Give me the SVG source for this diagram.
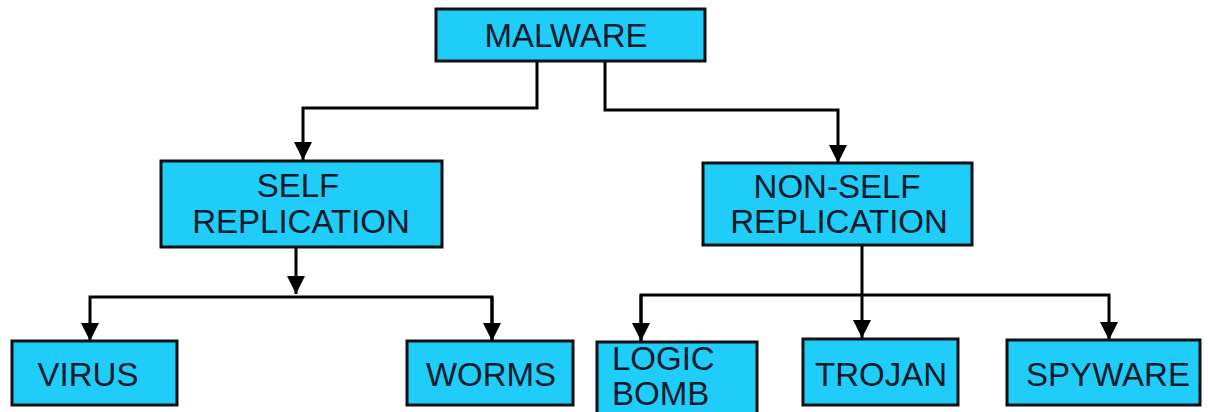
<svg xmlns="http://www.w3.org/2000/svg" width="1208" height="412" viewBox="0 0 1208 412">
<style>
.box{fill:#20CCF8;stroke:#111;stroke-width:3}
.t{font-family:"Liberation Sans",Arial,sans-serif;font-size:33px;fill:#0a1a2a;text-anchor:middle}
.c{fill:none;stroke:#000;stroke-width:3}
</style>
<defs>
<marker id="ah" markerUnits="userSpaceOnUse" markerWidth="18" markerHeight="18" viewBox="0 0 18 18" refX="9" refY="18" orient="0">
<path d="M0,0 L18,0 L9,18 Z" fill="#000"/>
</marker>
</defs>
<rect width="1208" height="412" fill="#fff"/>
<g id="connectors">
<path class="c" d="M537,61 V108 H303 V160" marker-end="url(#ah)"/>
<path class="c" d="M605,61 V110 H838 V163" marker-end="url(#ah)"/>
<path class="c" d="M296,247 V294" marker-end="url(#ah)"/>
<path class="c" d="M492,341 V297 H90 V341" marker-end="url(#ah)"/>
<path class="c" d="M492,297 V341" marker-end="url(#ah)"/>
<path class="c" d="M862,245 V338" marker-end="url(#ah)"/>
<path class="c" d="M641,341 V295 H1109 V340" marker-end="url(#ah)"/>
<path class="c" d="M641,295 V341" marker-end="url(#ah)"/>
</g>
<g id="malware"><rect class="box" x="436" y="9" width="269" height="52"/><text class="t" x="566" y="47">MALWARE</text></g>
<g id="self"><rect class="box" x="161" y="161" width="281" height="86"/><text class="t" x="298" y="197">SELF</text><text class="t" x="301" y="233">REPLICATION</text></g>
<g id="nonself"><rect class="box" x="703" y="163" width="269" height="82"/><text class="t" x="837" y="198">NON-SELF</text><text class="t" x="839" y="233">REPLICATION</text></g>
<g id="virus"><rect class="box" x="12" y="341" width="165" height="64"/><text class="t" x="88" y="386">VIRUS</text></g>
<g id="worms"><rect class="box" x="407" y="341" width="166" height="64"/><text class="t" x="491" y="386">WORMS</text></g>
<g id="logicbomb"><rect class="box" x="597" y="342" width="160" height="72"/><text class="t" x="612" y="370" style="text-anchor:start">LOGIC</text><text class="t" x="612" y="405" style="text-anchor:start">BOMB</text></g>
<g id="trojan"><rect class="box" x="803" y="339" width="155" height="66"/><text class="t" x="881" y="386">TROJAN</text></g>
<g id="spyware"><rect class="box" x="1007" y="340" width="193" height="65"/><text class="t" x="1108" y="386">SPYWARE</text></g>
</svg>
